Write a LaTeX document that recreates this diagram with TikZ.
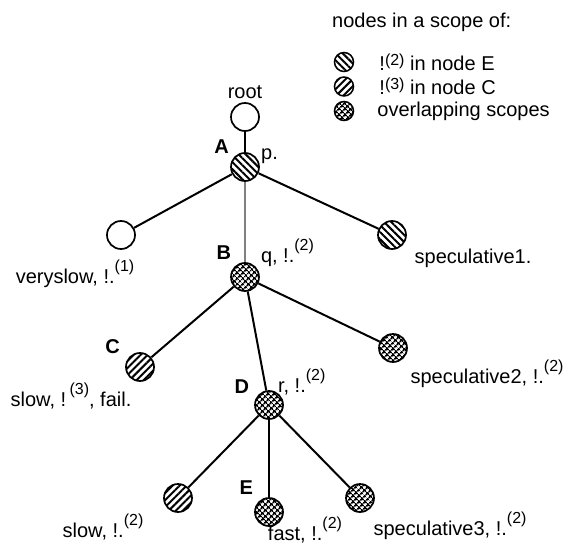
\documentclass[tikz,border=0pt]{standalone}
\usepackage{fontspec}
\setmainfont{Liberation Sans}
\usetikzlibrary{patterns.meta,positioning}

\newcommand{\cutsup}[1]{\raisebox{12pt}{\fontsize{16}{16}\selectfont(#1)}}
\newcommand{\keysup}[1]{\raisebox{5pt}{\fontsize{16}{16}\selectfont(#1)}}

\tikzset{
  ring/.style={circle, draw=black, line width=1.7pt, minimum size=28pt, inner sep=0pt},
  open/.style={ring, fill=white},
  scopeE/.style={ring, pattern={Lines[angle=-45,distance=5pt,line width=2pt]}, pattern color=black},
  scopeC/.style={ring, pattern={Lines[angle=45,distance=5pt,line width=2pt]}, pattern color=black},
  both/.style={ring, pattern={Hatch[angle=45,distance=4pt,line width=1.6pt]}, pattern color=black},
  key/.style={minimum size=19pt, line width=1.5pt},
  lab/.style={font=\fontsize{20}{22}\selectfont, inner sep=1pt, text=black},
  tag/.style={lab, font=\fontsize{20}{22}\selectfont\bfseries}
}

\begin{document}
\begin{tikzpicture}[x=1pt, y=1pt,
    level 1/.style={level distance=50pt,
      edge from parent/.style={draw=black, line width=1.5pt}},
    level 2/.style={level distance=68pt, sibling distance=136pt,
      edge from parent/.style={draw=black, line width=2pt}},
    level 3/.style={level distance=90pt, sibling distance=126pt,
      edge from parent/.style={draw=black, line width=2pt}},
    level 4/.style={level distance=93pt, sibling distance=91pt,
      edge from parent/.style={draw=black, line width=2pt}}
  ]
  \useasboundingbox (0,0) rectangle (577,-545);

  % the search tree
  \node[open, label={[lab, label distance=2pt]above:root}] (root) at (245,-117) {}
    child {
      node[scopeE, label={[tag, yshift=20pt]left:A}, label={[lab, yshift=11pt]right:p.}] (A) {}
      child[xshift=12pt] {
        node[open, label={[lab, xshift=-46pt, label distance=9pt]below:{veryslow, !.\cutsup{1}}}] (veryslow) {}
      }
      child[yshift=-42pt, edge from parent/.style={draw=gray, line width=1.3pt}] {
        node[both, label={[tag, label distance=-2pt, yshift=24pt]left:B},
             label={[lab, yshift=24pt]right:{q, !.\cutsup{2}}}] (B) {}
        child[xshift=21pt] {
          node[scopeC, label={[tag, label distance=4pt, yshift=20pt]left:C},
               label={[lab, xshift=-69pt, label distance=0pt]below:{slow, !\,\cutsup{3}, fail.}}] (C) {}
        }
        child[xshift=24pt, yshift=-38pt] {
          node[both, label={[tag, label distance=4pt, yshift=18pt]left:D},
               label={[lab, label distance=-7pt, yshift=23pt]right:{r, !.\cutsup{2}}}] (D) {}
          child {
            node[scopeC, label={[lab, xshift=-75pt, label distance=0pt]below:{slow, !.\cutsup{2}}}] (slow) {}
          }
          child[yshift=-14pt] {
            node[both, label={[tag, yshift=24pt]left:E},
                 label={[lab, xshift=36pt, label distance=-11pt]below:{fast, !.\cutsup{2}}}] (E) {}
          }
          child {
            node[both, label={[lab, xshift=90pt, label distance=-2pt]below:{speculative3, !.\cutsup{2}}}] (spec3) {}
          }
        }
        child[xshift=22pt, yshift=19pt] {
          node[both, label={[lab, xshift=94pt, label distance=-4pt]below:{speculative2, !.\cutsup{2}}}] (spec2) {}
        }
      }
      child[xshift=11pt] {
        node[scopeE, label={[lab, xshift=81pt, label distance=-2pt]below:speculative1.}] (spec1) {}
      }
    };

  % key
  \node[lab, anchor=west] (keytitle) at (331,-22) {nodes in a scope of:};
  \node[scopeE, key] (keyE) at (344,-62) {};
  \node[scopeC, key, below=4pt of keyE] (keyC) {};
  \node[both, key, below=4pt of keyC] (keyB) {};
  \node[lab, right=24pt of keyE.east, anchor=west] (keyEtext) {!\keysup{2} in node E};
  \node[lab, right=24pt of keyC.east, anchor=west] (keyCtext) {!\keysup{3} in node C};
  \node[lab, right=22pt of keyB.east, anchor=west] (keyBtext) {overlapping scopes};
\end{tikzpicture}
\end{document}
